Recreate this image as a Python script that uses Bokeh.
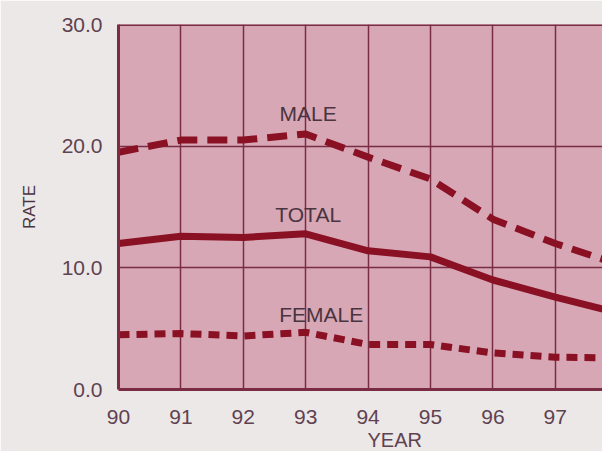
from bokeh.plotting import figure
from bokeh.models import FixedTicker, NumeralTickFormatter, Label, Span, Range1d, Title
from bokeh.embed import file_html
from bokeh.resources import INLINE

years = [90, 91, 92, 93, 94, 95, 96, 97, 98]
male = [19.5, 20.5, 20.5, 21.0, 19.1, 17.3, 14.0, 12.0, 10.3]
total = [12.0, 12.6, 12.5, 12.8, 11.4, 10.9, 9.0, 7.6, 6.3]
female = [4.5, 4.6, 4.4, 4.7, 3.7, 3.7, 3.0, 2.65, 2.6]
x_ticks = [90, 91, 92, 93, 94, 95, 96, 97]
y_ticks = [0, 10, 20, 30]

FONT = "Liberation Sans"
LINE = "#8a1024"
GRID = "#7a2c44"
TXT = "#4a3440"
TICK = "#5f4250"

p = figure(width=602, height=451, output_backend="svg", toolbar_location=None,
           x_range=Range1d(90, 90 + 484 / 62.4), y_range=Range1d(0, 30),
           min_border_left=118, min_border_right=0, min_border_top=24, min_border_bottom=62)
p.background_fill_color = "#d7a7b5"
p.border_fill_color = "#ece8e8"
p.outline_line_color = None

p.xaxis.ticker = FixedTicker(ticks=x_ticks)
p.yaxis.ticker = FixedTicker(ticks=y_ticks)
p.yaxis.formatter = NumeralTickFormatter(format="0.0")
for ax in (p.xaxis, p.yaxis):
    ax.axis_line_color = GRID
    ax.axis_line_width = 3
    ax.major_tick_line_color = None
    ax.minor_tick_line_color = None
    ax.major_label_text_font = FONT
    ax.major_label_text_font_size = "21px"
    ax.major_label_text_color = TICK
p.yaxis.major_label_standoff = 10
p.xaxis.major_label_standoff = 14

p.yaxis.axis_label = "RATE"
p.yaxis.axis_label_text_font = FONT
p.yaxis.axis_label_text_font_size = "17px"
p.yaxis.axis_label_text_font_style = "normal"
p.yaxis.axis_label_text_color = TXT
p.yaxis.axis_label_standoff = 20

p.add_layout(Title(text="YEAR", align="left", offset=249, standoff=0,
                   text_font=FONT, text_font_size="20px", text_font_style="normal",
                   text_color=TICK), "below")

p.xgrid.grid_line_color = GRID
p.xgrid.grid_line_width = 1.5
p.ygrid.grid_line_color = GRID
p.ygrid.grid_line_width = 1.5
p.add_layout(Span(location=30, dimension="width", line_color=GRID, line_width=3))

p.line(years, male, line_color=LINE, line_width=7, line_dash="20 10")
p.line(years, total, line_color=LINE, line_width=7)
p.line(years, female, line_color=LINE, line_width=7, line_dash="11 7")

for txt, x, y in [("MALE", 93.04, 22.65), ("TOTAL", 93.04, 14.35), ("FEMALE", 93.25, 6.2)]:
    p.add_layout(Label(x=x, y=y, text=txt, text_align="center", text_baseline="alphabetic",
                       text_font=FONT, text_font_size="21px", text_color=TXT))

open("out.html", "w").write(file_html(p, INLINE))
